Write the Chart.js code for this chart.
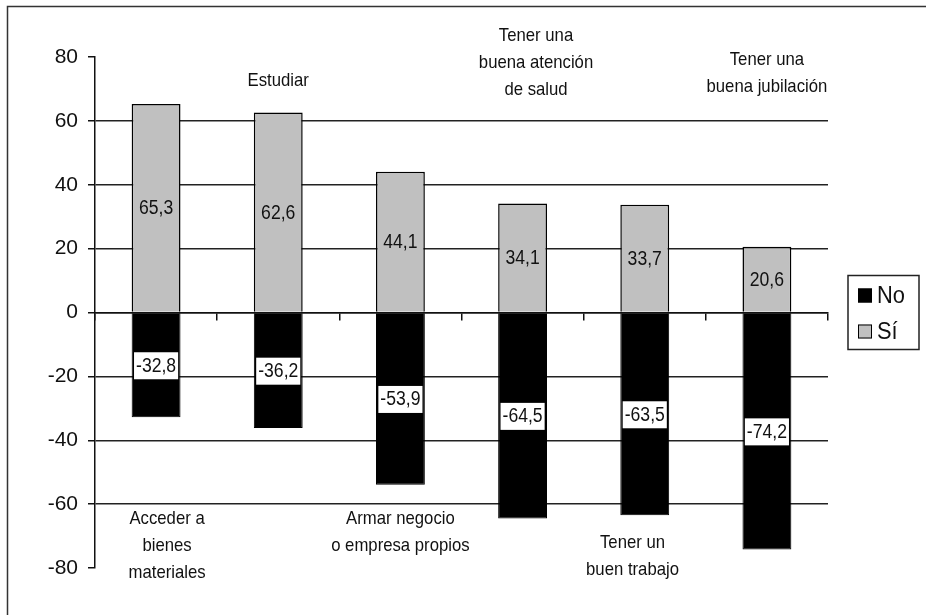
<!DOCTYPE html>
<html>
<head>
<meta charset="utf-8">
<title>Sí / No</title>
<script src="https://cdn.jsdelivr.net/npm/chart.js"></script>
<style>
  html, body { margin: 0; padding: 0; background: #fff; }
  #wrap { width: 926px; height: 615px; position: relative; }
</style>
</head>
<body>
<div id="wrap"><canvas id="chartCanvas" width="926" height="615"></canvas></div>
<script>
// Data
const categories = [
  ['Acceder a', 'bienes', 'materiales'],
  ['Estudiar'],
  ['Armar negocio', 'o empresa propios'],
  ['Tener una', 'buena atención', 'de salud'],
  ['Tener un', 'buen trabajo'],
  ['Tener una', 'buena jubilación']
];
const noValues = [-32.8, -36.2, -53.9, -64.5, -63.5, -74.2];
const siValues = [65.3, 62.6, 44.1, 34.1, 33.7, 20.6];
const yTicks = [80, 60, 40, 20, 0, -20, -40, -60, -80];

// where each category label sits: y in axis units, x shift in category units
const labelY = [-64.5, 72.5, -64.5, 86.5, -72, 79];
const labelShift = [0.09, 0, 0, 0.11, -0.1, 0];

const FONT = '"Liberation Sans", Arial, sans-serif';

function fmt(v) {
  return v.toFixed(1).replace('.', ',');
}

// text a bit narrower than normal, like the source picture
function narrowText(ctx, txt, x, y, size, sx) {
  ctx.save();
  ctx.translate(x, y);
  ctx.scale(sx, 1);
  ctx.font = size + 'px ' + FONT;
  ctx.fillText(txt, 0, 0);
  ctx.restore();
}

// Outer frame, category texts, value labels and legend
const extrasPlugin = {
  id: 'extras',
  beforeDraw(chart) {
    const ctx = chart.ctx;
    ctx.save();
    ctx.strokeStyle = '#333';
    ctx.lineWidth = 1.5;
    ctx.strokeRect(7.5, 6.5, 940, 640);
    ctx.restore();
  },
  afterDatasetsDraw(chart) {
    const ctx = chart.ctx;
    const xs = chart.scales.x;
    const ys = chart.scales.y;
    ctx.save();
    ctx.textAlign = 'center';
    ctx.textBaseline = 'middle';

    // value labels
    chart.data.datasets.forEach((ds, di) => {
      const meta = chart.getDatasetMeta(di);
      meta.data.forEach((bar, i) => {
        const v = ds.data[i];
        const cx = bar.x;
        const cy = (bar.y + bar.base) / 2;
        const txt = fmt(v);
        ctx.font = '20px ' + FONT;
        if (v < 0) {
          const w = ctx.measureText(txt).width * 0.88 + 4;
          ctx.fillStyle = '#fff';
          ctx.fillRect(cx - w / 2, cy - 13, w, 27);
        }
        ctx.fillStyle = '#111';
        narrowText(ctx, txt, cx, cy + 1, 20, 0.88);
      });
    });

    // category texts
    ctx.fillStyle = '#111';
    categories.forEach((lines, i) => {
      const cx = xs.getPixelForValue(i + labelShift[i]);
      const top = ys.getPixelForValue(labelY[i]);
      lines.forEach((ln, k) => {
        narrowText(ctx, ln, cx, top + k * 27, 19, 0.88);
      });
    });

    // legend
    const lx = chart.chartArea.right + 20;
    const cyMid = (chart.chartArea.top + chart.chartArea.bottom) / 2;
    const boxW = 71, boxH = 74;
    const by = cyMid - boxH / 2;
    ctx.strokeStyle = '#222';
    ctx.lineWidth = 1.5;
    ctx.strokeRect(lx, by, boxW, boxH);
    ctx.textAlign = 'left';
    const items = [chart.data.datasets[0], chart.data.datasets[1]];
    items.forEach((ds, k) => {
      const iy = by + 20 + k * 36;
      ctx.fillStyle = ds.backgroundColor;
      ctx.fillRect(lx + 10, iy - 7, 14, 14);
      ctx.lineWidth = 1;
      ctx.strokeStyle = '#000';
      ctx.strokeRect(lx + 10.5, iy - 6.5, 13, 13);
      ctx.fillStyle = '#111';
      narrowText(ctx, ds.label, lx + 29, iy + 1, 23, 0.95);
    });
    ctx.restore();
  }
};

const ctx = document.getElementById('chartCanvas').getContext('2d');
new Chart(ctx, {
  type: 'bar',
  data: {
    labels: categories.map(c => c.join(' ')),
    datasets: [
      {
        label: 'No',
        data: noValues,
        backgroundColor: '#000000',
        borderColor: '#000000',
        borderWidth: 1,
        categoryPercentage: 0.4,
        barPercentage: 1
      },
      {
        label: 'Sí',
        data: siValues,
        backgroundColor: '#c0c0c0',
        borderColor: '#000000',
        borderWidth: 1.5,
        categoryPercentage: 0.4,
        barPercentage: 1
      }
    ]
  },
  options: {
    responsive: false,
    animation: false,
    layout: { padding: { top: 57, bottom: 47, left: 10, right: 98 } },
    plugins: {
      legend: { display: false },
      tooltip: { enabled: false }
    },
    scales: {
      x: {
        stacked: true,
        position: { y: 0 },
        ticks: { display: false },
        grid: {
          offset: true,
          drawOnChartArea: false,
          tickLength: 7,
          tickColor: '#111',
          lineWidth: 1.5
        },
        border: { color: '#111', width: 1.5 }
      },
      y: {
        stacked: true,
        min: -80,
        max: 80,
        afterBuildTicks(scale) {
          scale.ticks = yTicks.map(v => ({ value: v }));
        },
        afterFit(scale) {
          scale.width = 85;
        },
        ticks: {
          color: '#111',
          padding: 10,
          font: { family: FONT, size: 21 }
        },
        grid: {
          color: (c) => (c.tick && Math.abs(c.tick.value) === 80) ? 'rgba(0,0,0,0)' : '#222',
          lineWidth: 1.5,
          tickLength: 7,
          tickColor: '#111'
        },
        border: { color: '#111', width: 1.5 }
      }
    }
  },
  plugins: [extrasPlugin]
});
</script>
</body>
</html>
